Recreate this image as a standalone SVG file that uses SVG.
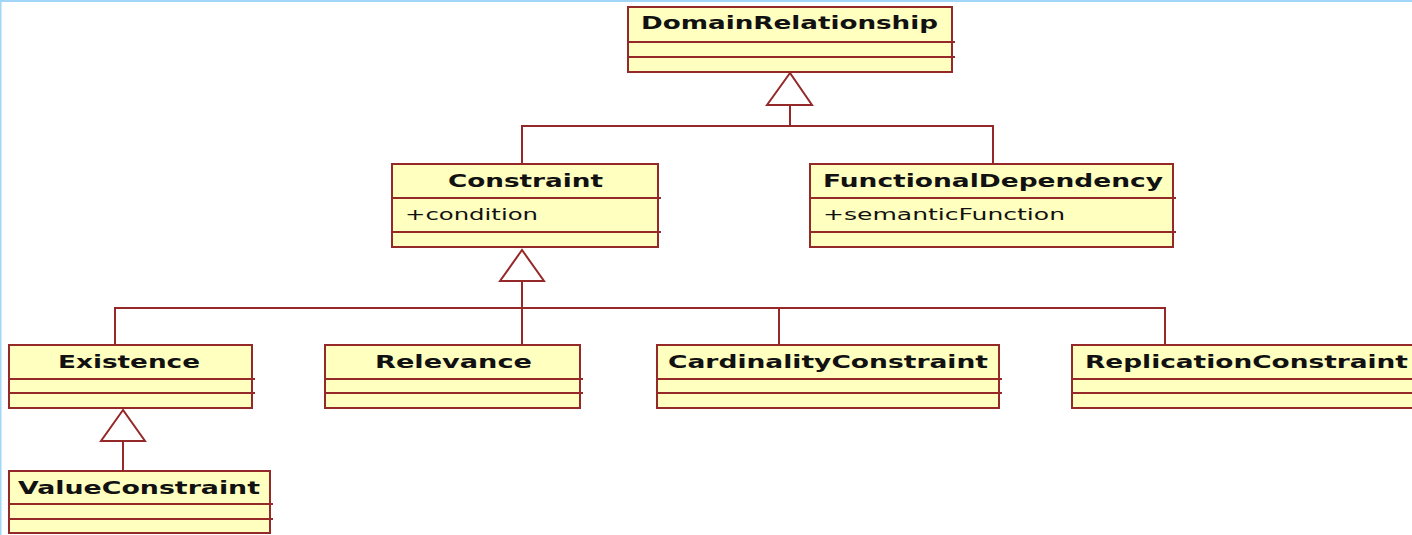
<svg xmlns="http://www.w3.org/2000/svg" width="1412" height="535" viewBox="0 0 1412 535">
  <style>
    .box { fill: #ffffc0; stroke: #952828; stroke-width: 2; }
    .div { stroke: #952828; stroke-width: 2; fill: none; }
    .name { font-family: "DejaVu Sans", "Liberation Sans", sans-serif; font-weight: bold; font-size: 17px; fill: #111; }
    .attr { font-family: "DejaVu Sans", "Liberation Sans", sans-serif; font-size: 16px; fill: #111; }
    .edge { stroke: #952828; stroke-width: 2; fill: none; }
    .head { stroke: #952828; stroke-width: 2; fill: #ffffff; stroke-linejoin: miter; }
  </style>

  <!-- window frame -->
  <rect x="0" y="0" width="1412" height="535" fill="#ffffff"/>
  <rect x="0" y="0" width="1412" height="2" fill="#a2d6f6"/>
  <rect x="0" y="0" width="1.5" height="535" fill="#a2d6f6"/>

  <!-- generalization connectors -->
  <g id="connectors">
    <polyline class="edge" points="790,105 790,126"/>
    <polyline class="edge" points="522,164 522,126 993,126 993,164"/>
    <polygon class="head" points="790,73 767,105 812,105"/>

    <polyline class="edge" points="522,281 522,345"/>
    <polyline class="edge" points="115,345 115,308 1165,308 1165,345"/>
    <polyline class="edge" points="779,308 779,345"/>
    <polygon class="head" points="522,250 500,281 544,281"/>

    <polyline class="edge" points="123,441 123,471"/>
    <polygon class="head" points="123,410 101,441 145,441"/>
  </g>

  <g id="DomainRelationship">
    <rect class="box" x="628" y="7" width="324" height="65"/>
    <line class="div" x1="628" y1="42" x2="955" y2="42"/>
    <line class="div" x1="628" y1="57" x2="955" y2="57"/>
    <text class="name" x="641" y="29" textLength="297" lengthAdjust="spacingAndGlyphs">DomainRelationship</text>
  </g>

  <g id="Constraint">
    <rect class="box" x="392" y="164" width="266" height="83"/>
    <line class="div" x1="392" y1="198" x2="661" y2="198"/>
    <line class="div" x1="392" y1="232" x2="661" y2="232"/>
    <text class="name" x="448" y="187" textLength="155" lengthAdjust="spacingAndGlyphs">Constraint</text>
    <text class="attr" x="405" y="220" textLength="133" lengthAdjust="spacingAndGlyphs">+condition</text>
  </g>

  <g id="FunctionalDependency">
    <rect class="box" x="810" y="164" width="363" height="83"/>
    <line class="div" x1="810" y1="198" x2="1176" y2="198"/>
    <line class="div" x1="810" y1="232" x2="1176" y2="232"/>
    <text class="name" x="823" y="187" textLength="340" lengthAdjust="spacingAndGlyphs">FunctionalDependency</text>
    <text class="attr" x="823" y="220" textLength="242" lengthAdjust="spacingAndGlyphs">+semanticFunction</text>
  </g>

  <g id="Existence">
    <rect class="box" x="9" y="345" width="243" height="63"/>
    <line class="div" x1="9" y1="379" x2="255" y2="379"/>
    <line class="div" x1="9" y1="393" x2="255" y2="393"/>
    <text class="name" x="58" y="368" textLength="142" lengthAdjust="spacingAndGlyphs">Existence</text>
  </g>

  <g id="Relevance">
    <rect class="box" x="325" y="345" width="255" height="63"/>
    <line class="div" x1="325" y1="379" x2="583" y2="379"/>
    <line class="div" x1="325" y1="393" x2="583" y2="393"/>
    <text class="name" x="375" y="368" textLength="157" lengthAdjust="spacingAndGlyphs">Relevance</text>
  </g>

  <g id="CardinalityConstraint">
    <rect class="box" x="657" y="345" width="342" height="63"/>
    <line class="div" x1="657" y1="379" x2="1002" y2="379"/>
    <line class="div" x1="657" y1="393" x2="1002" y2="393"/>
    <text class="name" x="668" y="368" textLength="320" lengthAdjust="spacingAndGlyphs">CardinalityConstraint</text>
  </g>

  <g id="ReplicationConstraint">
    <rect class="box" x="1072" y="345" width="350" height="63"/>
    <line class="div" x1="1072" y1="379" x2="1422" y2="379"/>
    <line class="div" x1="1072" y1="393" x2="1422" y2="393"/>
    <text class="name" x="1085" y="368" textLength="323" lengthAdjust="spacingAndGlyphs">ReplicationConstraint</text>
  </g>

  <g id="ValueConstraint">
    <rect class="box" x="9" y="471" width="261" height="62"/>
    <line class="div" x1="9" y1="504" x2="273" y2="504"/>
    <line class="div" x1="9" y1="519" x2="273" y2="519"/>
    <text class="name" x="18" y="494" textLength="242" lengthAdjust="spacingAndGlyphs">ValueConstraint</text>
  </g>
</svg>
